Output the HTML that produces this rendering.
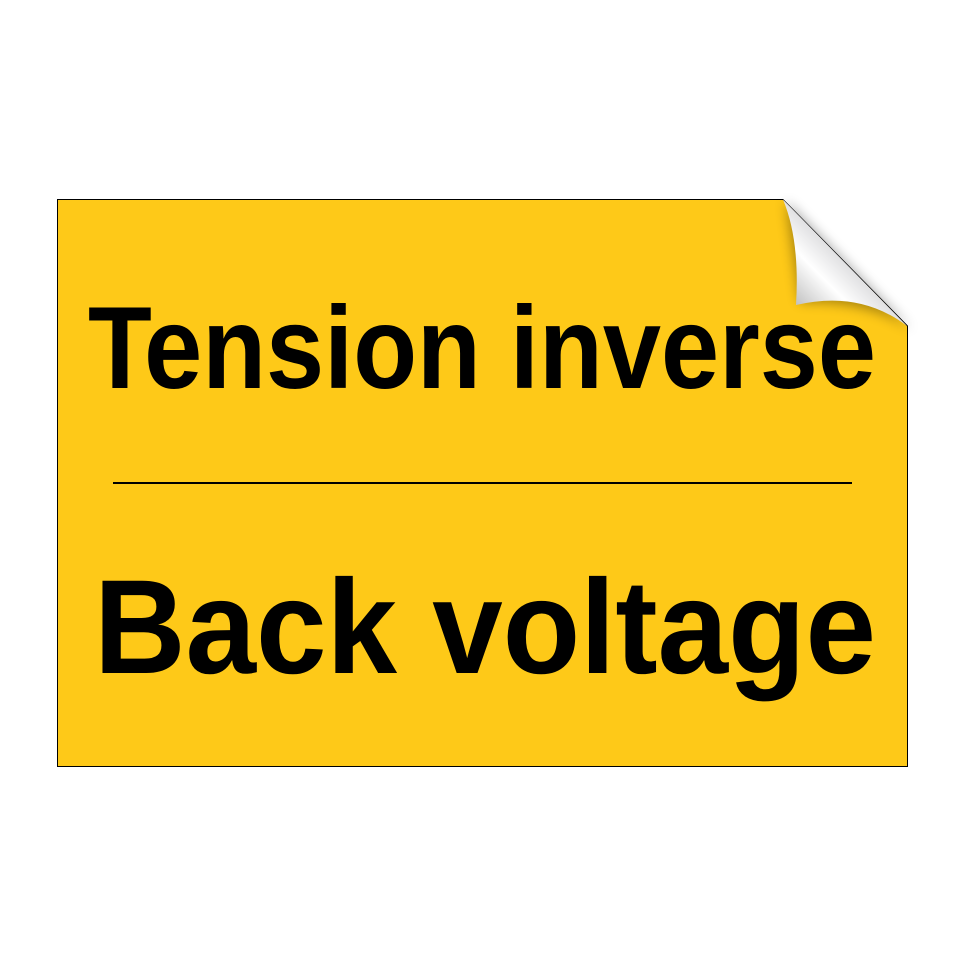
<!DOCTYPE html>
<html><head><style>html,body{margin:0;padding:0;background:#fff;width:964px;height:964px;overflow:hidden}</style></head>
<body>
<svg width="964" height="964" viewBox="0 0 964 964" xmlns="http://www.w3.org/2000/svg">
<defs>
<linearGradient id="curl" x1="0" y1="1" x2="1" y2="0">
<stop offset="0" stop-color="#9a9a9a"/>
<stop offset="0.35" stop-color="#ffffff"/>
<stop offset="0.7" stop-color="#b8b8bc"/>
<stop offset="1" stop-color="#7a7a80"/>
</linearGradient>
<filter id="sh" x="-50%" y="-50%" width="200%" height="200%"><feGaussianBlur stdDeviation="6"/></filter>
</defs>
<path d="M57.5,199.5 L783,199.5 L907.5,326 L907.5,766.5 L57.5,766.5 Z" fill="#FEC918" stroke="#000" stroke-width="1"/>
<path d="M786,201 L912,330 Q870,300 800,302 Z" fill="#000" opacity="0.35" filter="url(#sh)"/>
<path d="M783,199.5 Q800,240 796,305 Q860,290 907,326 Z" fill="url(#curl)"/>
<g font-family="Liberation Sans, sans-serif" font-weight="bold" fill="#000">
<text x="88" y="388" font-size="117" textLength="788" lengthAdjust="spacingAndGlyphs">Tension inverse</text>
<text x="94" y="673" font-size="134" textLength="782" lengthAdjust="spacingAndGlyphs">Back voltage</text>
</g>
<line x1="113" y1="483" x2="852" y2="483" stroke="#000" stroke-width="2"/>
</svg>
</body></html>
